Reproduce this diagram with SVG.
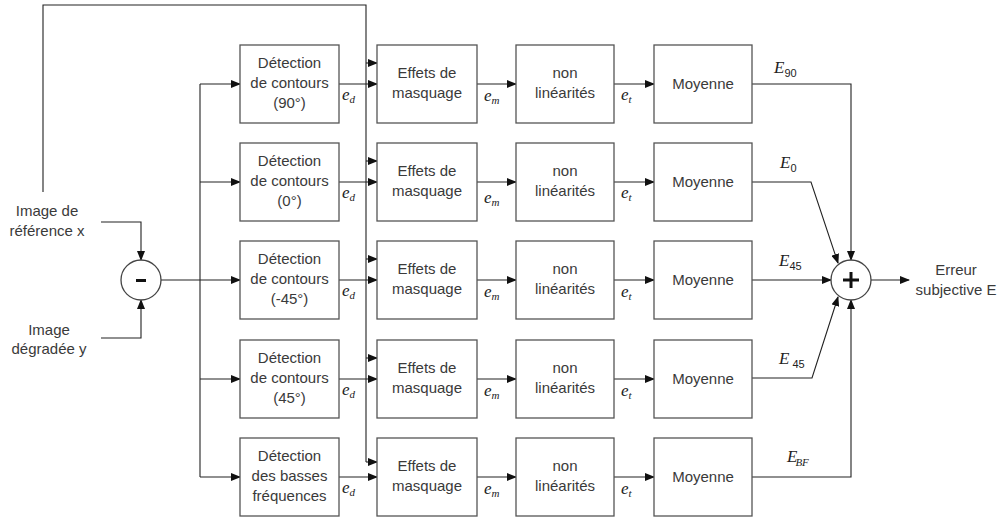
<svg xmlns="http://www.w3.org/2000/svg" width="1000" height="520" viewBox="0 0 1000 520">
<defs>
<marker id="arr" markerUnits="userSpaceOnUse" markerWidth="10" markerHeight="8" refX="9" refY="4" orient="auto">
<path d="M0,0 L10,4 L0,8 Z" fill="#111"/>
</marker>
<style>
.box{fill:#fff;stroke:#555;stroke-width:1.3}
.t{font-family:"Liberation Sans",Arial,sans-serif;font-size:15px;fill:#3a3a3a;text-anchor:middle}
.c{fill:none;stroke:#222;stroke-width:1.1}
.a{fill:none;stroke:#222;stroke-width:1.1;marker-end:url(#arr)}
.v{font-family:"Liberation Serif","Times New Roman",serif;font-style:italic;font-size:17px;fill:#222}
.s{font-family:"Liberation Sans",Arial,sans-serif;font-style:normal;font-size:11px;fill:#222}
.si{font-family:"Liberation Serif",serif;font-style:italic;font-size:11px;fill:#222}
.circ{fill:#fff;stroke:#444;stroke-width:1.3}
</style>
</defs>
<rect width="1000" height="520" fill="#fff"/>

<g id="connectors">
<path class="c" d="M43,192 V5 H366 V462"/>
<path class="a" d="M366,462 H377"/>
<path class="a" d="M366,63 H377"/>
<path class="a" d="M366,161 H377"/>
<path class="a" d="M366,259 H377"/>
<path class="a" d="M366,358 H377"/>
<path class="a" d="M101,222 H141 V260"/>
<path class="a" d="M101,338 H141 V300"/>
<path class="a" d="M161,280 H240"/>
<path class="c" d="M200,84 V477"/>
<path class="a" d="M200,84 H240"/>
<path class="a" d="M200,182 H240"/>
<path class="a" d="M200,379 H240"/>
<path class="a" d="M200,477 H240"/>
<path class="a" d="M339,84 H377"/><path class="a" d="M477,84 H516"/><path class="a" d="M614,84 H654"/>
<path class="a" d="M339,182 H377"/><path class="a" d="M477,182 H516"/><path class="a" d="M614,182 H654"/>
<path class="a" d="M339,280 H377"/><path class="a" d="M477,280 H516"/><path class="a" d="M614,280 H654"/>
<path class="a" d="M339,379 H377"/><path class="a" d="M477,379 H516"/><path class="a" d="M614,379 H654"/>
<path class="a" d="M339,477 H377"/><path class="a" d="M477,477 H516"/><path class="a" d="M614,477 H654"/>
<path class="a" d="M752,84 H851 V260"/>
<path class="a" d="M752,182 H811 L838,263"/>
<path class="a" d="M752,280 H831"/>
<path class="a" d="M752,378 H812 L838,297"/>
<path class="a" d="M752,477 H851 V300"/>
<path class="a" d="M871,280 H909"/>
</g>

<g id="labels">
<text class="v" x="342" y="100">e<tspan class="si" dy="3">d</tspan></text>
<text class="v" x="342" y="198">e<tspan class="si" dy="3">d</tspan></text>
<text class="v" x="342" y="296">e<tspan class="si" dy="3">d</tspan></text>
<text class="v" x="342" y="395">e<tspan class="si" dy="3">d</tspan></text>
<text class="v" x="342" y="493">e<tspan class="si" dy="3">d</tspan></text>
<text class="v" x="484" y="101">e<tspan class="si" dy="3">m</tspan></text>
<text class="v" x="484" y="203">e<tspan class="si" dy="3">m</tspan></text>
<text class="v" x="484" y="297">e<tspan class="si" dy="3">m</tspan></text>
<text class="v" x="484" y="396">e<tspan class="si" dy="3">m</tspan></text>
<text class="v" x="484" y="494">e<tspan class="si" dy="3">m</tspan></text>
<text class="v" x="621" y="100">e<tspan class="si" dy="3">t</tspan></text>
<text class="v" x="621" y="198">e<tspan class="si" dy="3">t</tspan></text>
<text class="v" x="621" y="297">e<tspan class="si" dy="3">t</tspan></text>
<text class="v" x="621" y="396">e<tspan class="si" dy="3">t</tspan></text>
<text class="v" x="621" y="494">e<tspan class="si" dy="3">t</tspan></text>
<text class="v" x="774" y="73">E<tspan class="s" dy="4">90</tspan></text>
<text class="v" x="780" y="168">E<tspan class="s" dy="4">0</tspan></text>
<text class="v" x="779" y="266">E<tspan class="s" dy="4">45</tspan></text>
<text class="v" x="779" y="364">E<tspan class="s" dx="3" dy="4">45</tspan></text>
<text class="v" x="787" y="462">E<tspan class="si" dx="-2" dy="4">BF</tspan></text>
</g>

<g id="in-ref"><text class="t" x="47" y="216">Image de</text><text class="t" x="47" y="236">référence x</text></g>
<g id="in-deg"><text class="t" x="49" y="335">Image</text><text class="t" x="49" y="354">dégradée y</text></g>
<g id="out"><text class="t" x="956" y="275">Erreur</text><text class="t" x="956" y="295">subjective E</text></g>

<g id="sub"><circle class="circ" cx="141" cy="280" r="20"/><rect x="136" y="279" width="10" height="3" fill="#111"/></g>
<g id="sum"><circle class="circ" cx="851" cy="280" r="20"/><path d="M843,280 H859 M851,272 V288" stroke="#111" stroke-width="3"/></g>

<g id="d1"><rect class="box" x="240" y="45" width="99" height="78"/><text class="t" x="289.5" y="68">Détection</text><text class="t" x="289.5" y="88">de contours</text><text class="t" x="289.5" y="108">(90°)</text></g>
<g id="d2"><rect class="box" x="240" y="143" width="99" height="78"/><text class="t" x="289.5" y="166">Détection</text><text class="t" x="289.5" y="186">de contours</text><text class="t" x="289.5" y="206">(0°)</text></g>
<g id="d3"><rect class="box" x="240" y="241" width="99" height="78"/><text class="t" x="289.5" y="264">Détection</text><text class="t" x="289.5" y="284">de contours</text><text class="t" x="289.5" y="304">(-45°)</text></g>
<g id="d4"><rect class="box" x="240" y="340" width="99" height="78"/><text class="t" x="289.5" y="363">Détection</text><text class="t" x="289.5" y="383">de contours</text><text class="t" x="289.5" y="403">(45°)</text></g>
<g id="d5"><rect class="box" x="240" y="438" width="99" height="78"/><text class="t" x="289.5" y="461">Détection</text><text class="t" x="289.5" y="481">des basses</text><text class="t" x="289.5" y="501">fréquences</text></g>

<g id="m1"><rect class="box" x="377" y="45" width="100" height="78"/><text class="t" x="427" y="78">Effets de</text><text class="t" x="427" y="98">masquage</text></g>
<g id="m2"><rect class="box" x="377" y="143" width="100" height="78"/><text class="t" x="427" y="176">Effets de</text><text class="t" x="427" y="196">masquage</text></g>
<g id="m3"><rect class="box" x="377" y="241" width="100" height="78"/><text class="t" x="427" y="274">Effets de</text><text class="t" x="427" y="294">masquage</text></g>
<g id="m4"><rect class="box" x="377" y="340" width="100" height="78"/><text class="t" x="427" y="373">Effets de</text><text class="t" x="427" y="393">masquage</text></g>
<g id="m5"><rect class="box" x="377" y="438" width="100" height="78"/><text class="t" x="427" y="471">Effets de</text><text class="t" x="427" y="491">masquage</text></g>

<g id="n1"><rect class="box" x="516" y="45" width="98" height="78"/><text class="t" x="565" y="78">non</text><text class="t" x="565" y="98">linéarités</text></g>
<g id="n2"><rect class="box" x="516" y="143" width="98" height="78"/><text class="t" x="565" y="176">non</text><text class="t" x="565" y="196">linéarités</text></g>
<g id="n3"><rect class="box" x="516" y="241" width="98" height="78"/><text class="t" x="565" y="274">non</text><text class="t" x="565" y="294">linéarités</text></g>
<g id="n4"><rect class="box" x="516" y="340" width="98" height="78"/><text class="t" x="565" y="373">non</text><text class="t" x="565" y="393">linéarités</text></g>
<g id="n5"><rect class="box" x="516" y="438" width="98" height="78"/><text class="t" x="565" y="471">non</text><text class="t" x="565" y="491">linéarités</text></g>

<g id="a1"><rect class="box" x="654" y="45" width="98" height="78"/><text class="t" x="703" y="89">Moyenne</text></g>
<g id="a2"><rect class="box" x="654" y="143" width="98" height="78"/><text class="t" x="703" y="187">Moyenne</text></g>
<g id="a3"><rect class="box" x="654" y="241" width="98" height="78"/><text class="t" x="703" y="285">Moyenne</text></g>
<g id="a4"><rect class="box" x="654" y="340" width="98" height="78"/><text class="t" x="703" y="384">Moyenne</text></g>
<g id="a5"><rect class="box" x="654" y="438" width="98" height="78"/><text class="t" x="703" y="482">Moyenne</text></g>
</svg>
